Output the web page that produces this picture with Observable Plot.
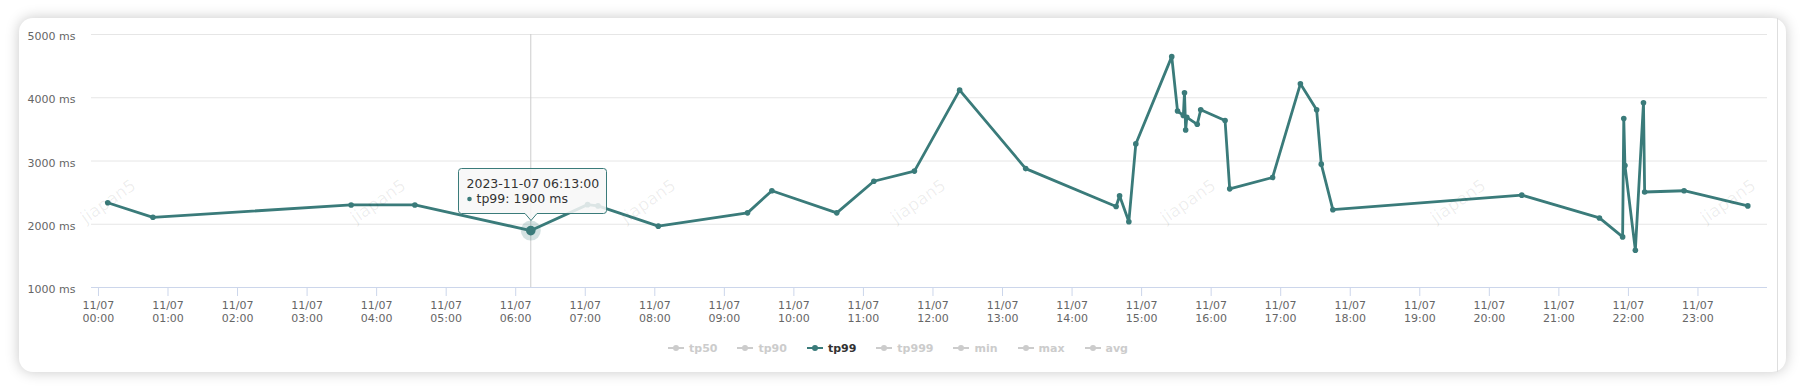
<!DOCTYPE html>
<html>
<head>
<meta charset="utf-8">
<script src="https://cdn.jsdelivr.net/npm/d3@7"></script>
<script src="https://cdn.jsdelivr.net/npm/@observablehq/plot@0.6"></script>
<style>
  html, body { margin: 0; padding: 0; background: #fff; }
  body { width: 1804px; height: 390px; overflow: hidden; position: relative; font-family: "DejaVu Sans", sans-serif; }
  #card { position: absolute; left: 19px; top: 18px; width: 1767px; height: 354px; background: #fff; border-radius: 14px; box-shadow: 0 0 14px rgba(0,0,0,0.22); }
  #inner { position: absolute; left: 0; top: 0; width: 1758px; height: 354px; border-right: 1px solid #dedede; }
  #chart { position: absolute; left: 0; top: 0; }
  .wm { position: absolute; font-size: 17px; color: rgba(0,0,0,0.07); transform: translate(-50%,-50%) rotate(-35deg); white-space: nowrap; pointer-events: none; }
  #legend { position: absolute; left: 668px; top: 340px; height: 16px; display: flex; align-items: center; gap: 20px; font-size: 11px; font-weight: bold; }
  .item { display: flex; align-items: center; color: #cccccc; }
  .item svg { margin-right: 5px; }
  .item.active { color: #333333; }
  #tip { position: absolute; pointer-events: none; }
</style>
</head>
<body>
<div id="card"><div id="inner"></div></div>
<div id="chart"></div>
<div id="legend"></div>
<script>
(function () {
// ---- data ----
const day = "2023-11-07";
const times = ["00:08","00:47","03:38","04:33","06:13","07:02","07:11","08:03","09:20","09:41",
  "10:37","11:09","11:44","12:23","13:20","14:38","14:41","14:49","14:55","15:26",
  "15:31","15:36","15:37","15:38","15:39","15:48","15:51","16:12","16:16","16:53",
  "17:17","17:31","17:35","17:45","20:28","21:35","21:55","21:56","21:57","22:06",
  "22:13","22:14","22:48","23:43"];
const tp99 = [2340,2110,2305,2305,1900,2310,2290,1970,2180,2530,
  2180,2680,2840,4120,2880,2280,2450,2040,3270,4650,
  3790,3720,4080,3490,3690,3580,3810,3640,2560,2740,
  4220,3810,2950,2230,2460,2100,1800,3670,2930,1590,
  3920,2510,2530,2290];
const yTicks = [1000, 2000, 3000, 4000, 5000];
const seriesNames = ["tp50","tp90","tp99","tp999","min","max","avg"];
const activeSeries = "tp99";
const highlightTime = "06:13";
const watermark = "jiapan5";

const teal = "#3a7b7a";
const data = times.map((t, i) => ({date: new Date(`${day}T${t}:00Z`), value: tp99[i]}));
const hl = data.find(d => d.date.getTime() === new Date(`${day}T${highlightTime}:00Z`).getTime());
const hourTicks = d3.utcHours(new Date(`${day}T00:00:00Z`), new Date(`${day}T23:30:00Z`));
const fmtDay = d3.utcFormat("%m/%d"), fmtHour = d3.utcFormat("%H:%M");

const chart = Plot.plot({
  width: 1804,
  height: 320,
  marginLeft: 91,
  marginRight: 37,
  marginTop: 34,
  marginBottom: 33,
  style: {fontFamily: "DejaVu Sans, sans-serif", fontSize: "11px", background: "transparent", overflow: "visible"},
  x: {type: "utc", label: null, domain: [new Date("2023-11-06T23:54:00Z"), new Date("2023-11-08T00:00:00Z")]},
  y: {label: null, domain: [1000, 5000]},
  marks: [
    Plot.gridY(yTicks.slice(1), {stroke: "#e6e6e6", strokeOpacity: 1}),
    Plot.ruleY([1000], {stroke: "#ccd6eb"}),
    Plot.axisY(yTicks, {label: null, tickSize: 0, tickPadding: 16, dy: 2, fill: "#666", tickFormat: d => `${d} ms`}),
    Plot.axisX(hourTicks, {label: null, tickSize: 9, tickPadding: 3, stroke: "#ccd6eb", fill: "#666", lineHeight: 1.2,
      tickFormat: d => `${fmtDay(d)}\n${fmtHour(d)}`}),
    Plot.ruleX([hl.date], {stroke: "#cccccc"}),
    Plot.line(data, {x: "date", y: "value", stroke: teal, strokeWidth: 2.8, curve: "linear"}),
    Plot.dot(data, {x: "date", y: "value", r: 2.8, fill: teal}),
    Plot.dot([hl], {x: "date", y: "value", r: 10, fill: teal, fillOpacity: 0.22}),
    Plot.dot([hl], {x: "date", y: "value", r: 4.8, fill: teal})
  ]
});
document.getElementById("chart").appendChild(chart);

// watermarks placed across the plot frame
const xs = chart.scale("x"), ys = chart.scale("y");
const wmY = ys.apply(2360);
for (let i = 0; i < 7; i++) {
  const el = document.createElement("div");
  el.className = "wm";
  el.textContent = watermark;
  el.style.left = (108 + 270 * i) + "px";
  el.style.top = wmY + "px";
  document.body.appendChild(el);
}

// tooltip anchored to highlighted point via scales
const px = xs.apply(hl.date), py = ys.apply(hl.value);
const tw = 148, th = 45, tipLeft = px - 72.5, tipTop = py - 62;
const tip = d3.select("body").append("svg").attr("id", "tip")
  .attr("width", tw + 10).attr("height", th + 20)
  .style("left", (tipLeft - 5) + "px").style("top", (tipTop - 5) + "px");
const g = tip.append("g").attr("transform", "translate(5.5,5.5)");
const ax = px - tipLeft, rr = 3;
g.append("path")
  .attr("d", `M${rr},0H${tw - rr}Q${tw},0 ${tw},${rr}V${th - rr}Q${tw},${th} ${tw - rr},${th}H${ax + 6}L${ax},${th + 7}L${ax - 6},${th}H${rr}Q0,${th} 0,${th - rr}V${rr}Q0,0 ${rr},0Z`)
  .attr("fill", "rgba(247,247,247,0.86)").attr("stroke", teal).attr("stroke-width", 1);
g.append("text").attr("x", 8).attr("y", 19).attr("font-size", 12.5).attr("fill", "#333")
  .attr("font-family", "DejaVu Sans, sans-serif")
  .text(d3.utcFormat("%Y-%m-%d %H:%M:%S")(hl.date));
g.append("circle").attr("cx", 11).attr("cy", 30.5).attr("r", 2.3).attr("fill", teal);
g.append("text").attr("x", 18).attr("y", 34.5).attr("font-size", 12.5).attr("fill", "#333")
  .attr("font-family", "DejaVu Sans, sans-serif")
  .text(`${activeSeries}: ${hl.value} ms`);

// legend
const legend = d3.select("#legend");
seriesNames.forEach(name => {
  const it = legend.append("div").attr("class", "item" + (name === activeSeries ? " active" : ""));
  const col = name === activeSeries ? teal : "#cccccc";
  const s = it.append("svg").attr("width", 16).attr("height", 10);
  s.append("line").attr("x1", 0).attr("x2", 16).attr("y1", 5).attr("y2", 5).attr("stroke", col).attr("stroke-width", 2);
  s.append("circle").attr("cx", 8).attr("cy", 5).attr("r", 3).attr("fill", col);
  it.append("span").text(name);
});
})();
</script>
</body>
</html>
